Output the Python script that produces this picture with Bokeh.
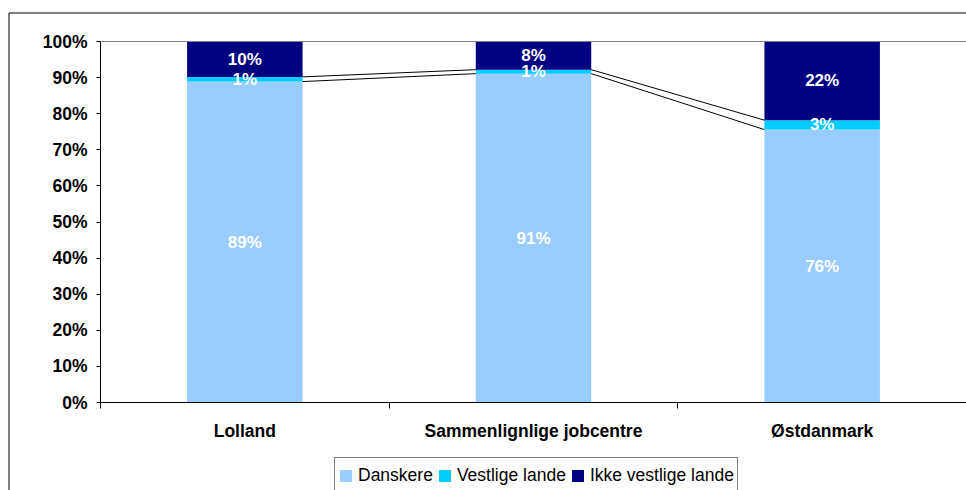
from bokeh.plotting import figure
from bokeh.models import (ColumnDataSource, Range1d, FixedTicker, Legend,
                          LegendItem, BoxAnnotation)
from bokeh.core.properties import value
from bokeh.embed import file_html
from bokeh.resources import INLINE

categories = ["Lolland", "Sammenlignlige jobcentre", "Østdanmark"]
danskere = [0.889, 0.911, 0.756]
vestlige = [0.013, 0.011, 0.026]
ikke_vestlige = [0.098, 0.078, 0.218]
series_names = ["Danskere", "Vestlige lande", "Ikke vestlige lande"]
colors = ["#99CCFF", "#00CCFF", "#000080"]
y_ticks = [i / 10 for i in range(11)]
y_tick_labels = [f"{i * 10}%" for i in range(11)]

FONT = "Liberation Sans"
BAR_W = 0.4

# canvas geometry (pixels): plot area spans x 100..966, y 41..402 of a 966x490 canvas
W, H = 966, 490
PL, PT, PB = 100, 41, 402
n = len(categories)
ux = (W - PL) / n          # pixels per category
uy = (PB - PT) / 1.0       # pixels per 100 %
x_lo = -PL / ux
y_lo = -(H - PB) / uy
y_hi = 1 + PT / uy

xc = [i + 0.5 for i in range(n)]
src = ColumnDataSource(dict(x=xc, d=danskere, v=vestlige, k=ikke_vestlige))

p = figure(width=W, height=H, output_backend="svg", toolbar_location=None,
           x_range=Range1d(x_lo, n), y_range=Range1d(y_lo, y_hi),
           min_border=0, min_border_left=0, min_border_right=0,
           min_border_top=0, min_border_bottom=0)
p.outline_line_color = None
p.xgrid.visible = False
p.ygrid.visible = False
p.background_fill_color = "white"
p.border_fill_color = "white"

rs = p.vbar_stack(["d", "v", "k"], x="x", width=BAR_W, source=src,
                  color=colors, line_color=None)

# series lines between bars
cum1 = danskere
cum2 = [a + b for a, b in zip(danskere, vestlige)]
sx0, sx1, sy0, sy1 = [], [], [], []
for cum in (cum1, cum2):
    for i in range(n - 1):
        sx0.append(xc[i] + BAR_W / 2)
        sx1.append(xc[i + 1] - BAR_W / 2)
        sy0.append(cum[i])
        sy1.append(cum[i + 1])
p.segment(x0=sx0, y0=sy0, x1=sx1, y1=sy1, line_color="black", line_width=1)

# top border of plot area
p.segment(x0=[0], y0=[1], x1=[n], y1=[1], line_color="#808080", line_width=1)

# data labels
lx, ly, lt = [], [], []
for i in range(n):
    base = 0.0
    for vals in (danskere, vestlige, ikke_vestlige):
        v = vals[i]
        lx.append(xc[i])
        ly.append(base + v / 2)
        lt.append(f"{v * 100:.0f}%")
        base += v
p.text(x=lx, y=ly, text=lt, text_color="white", text_font=value(FONT),
       text_font_style="bold", text_font_size="17px", text_align="center",
       text_baseline="middle")

# axes
ya = p.yaxis[0]
ya.fixed_location = 0
ya.bounds = (0, 1)
ya.ticker = FixedTicker(ticks=y_ticks, minor_ticks=[])
ya.major_label_overrides = {t: l for t, l in zip(y_ticks, y_tick_labels)}
ya.major_label_text_font = FONT
ya.major_label_text_font_style = "bold"
ya.major_label_text_font_size = "17.5px"
ya.major_label_text_color = "black"
ya.major_tick_out = 4
ya.major_tick_in = 0
ya.minor_tick_out = 0
ya.minor_tick_in = 0
ya.major_label_standoff = 9
ya.axis_line_color = "black"
ya.major_tick_line_color = "black"

xa = p.xaxis[0]
xa.fixed_location = 0
xa.bounds = (0, n)
xa.ticker = FixedTicker(ticks=xc, minor_ticks=list(range(n + 1)))
xa.major_label_overrides = {t: c for t, c in zip(xc, categories)}
xa.major_label_text_font = FONT
xa.major_label_text_font_style = "bold"
xa.major_label_text_font_size = "17.5px"
xa.major_label_text_color = "black"
xa.major_tick_out = 0
xa.major_tick_in = 0
xa.minor_tick_out = 6
xa.minor_tick_in = 0
xa.minor_tick_line_color = "black"
xa.major_label_standoff = 12
xa.axis_line_color = "black"

legend = Legend(items=[LegendItem(label=s, renderers=[r]) for s, r in zip(series_names, rs)],
                orientation="horizontal", location=(334, -3),
                glyph_width=15, glyph_height=15, label_standoff=5, spacing=4,
                padding=3, label_height=28, margin=0,
                border_line_color="black", border_line_width=1,
                label_text_font=FONT, label_text_font_size="17.5px",
                label_text_color="black", background_fill_alpha=1)
p.add_layout(legend, "center")

# outer chart border
frame_box = BoxAnnotation(left=x_lo + 8.5 / ux, right=n + 20 / ux,
                          top=y_hi - 12.5 / uy, bottom=y_lo - 20 / uy,
                          fill_alpha=0, line_color="black", line_alpha=1,
                          line_width=1, editable=False)
p.add_layout(frame_box)

open("out.html", "w").write(file_html(p, INLINE))
